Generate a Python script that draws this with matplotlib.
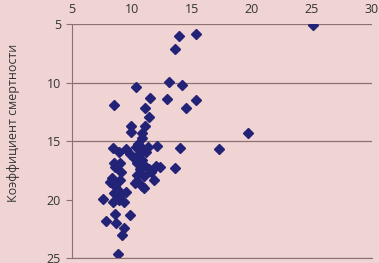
import numpy as np
import matplotlib.pyplot as plt

# точки: x, коэффициент смертности
x_vals = [25.06, 15.3, 13.9, 13.55, 13.1, 14.2, 10.3, 11.5, 12.9, 15.3,
          14.5, 11.1, 8.5, 11.4, 11.1, 9.9, 9.9, 10.8, 10.8, 19.7,
          14.0, 17.25, 13.55, 12.1, 8.4, 8.9, 9.5, 9.8, 10.3, 10.5,
          10.8, 11.3, 10.5, 10.8, 10.4, 11.0, 8.5, 9.0, 8.6, 9.1,
          8.3, 9.0, 8.2, 8.6, 8.8, 9.5, 8.5, 8.9, 7.6, 8.4,
          9.3, 8.9, 8.6, 9.8, 7.8, 8.7, 9.3, 9.2, 8.8, 10.4,
          10.4, 10.25, 10.8, 11.0, 11.0, 11.4, 11.6, 11.8, 12.0, 12.3,
          11.2, 10.2, 10.7]
y_vals = [5.11, 5.8, 6.0, 7.1, 9.9, 10.2, 10.4, 11.3, 11.4, 11.5,
          12.2, 12.2, 11.9, 12.9, 13.7, 13.7, 14.2, 14.3, 14.7, 14.3,
          15.6, 15.7, 17.3, 15.4, 15.6, 15.9, 15.7, 16.1, 15.5, 15.2,
          15.6, 15.5, 16.2, 16.6, 16.9, 17.0, 16.9, 16.9, 17.2, 17.6,
          18.1, 18.3, 18.5, 18.8, 19.2, 19.3, 19.4, 19.7, 19.9, 20.2,
          20.2, 20.0, 21.2, 21.3, 21.8, 22.0, 22.4, 23.0, 24.6, 17.9,
          18.4, 18.6, 18.8, 19.0, 18.0, 17.4, 17.6, 18.3, 17.1, 17.2,
          15.9, 16.4, 17.4]

x_ticks = [5, 10, 15, 20, 25, 30]
y_ticks = [5, 10, 15, 20, 25]

bg = '#f0d4d4'
line_col = '#8a7272'

fig = plt.figure(figsize=(3.79, 2.63), dpi=100, facecolor=bg)
ax = fig.add_axes([0.19, 0.018, 0.791, 0.89], facecolor=bg)

ax.plot(x_vals, y_vals, 'D', color='#222277', markersize=5.3, linestyle='none')

ax.set_xlim(5, 30)
ax.set_ylim(25, 5)
ax.set_xticks(x_ticks)
ax.set_yticks(y_ticks)
ax.xaxis.tick_top()

ax.grid(axis='y', color=line_col, linewidth=0.9)
ax.yaxis.get_gridlines()[3].set_visible(False)
ax.set_axisbelow(True)

for s in ['right', 'top']:
    ax.spines[s].set_visible(False)
ax.spines['left'].set_color(line_col)
ax.spines['bottom'].set_color(line_col)

ax.tick_params(axis='x', length=0, labelsize=9, colors='#333333', pad=6)
ax.tick_params(axis='y', length=4, color=line_col, labelsize=9,
               labelcolor='#333333', pad=4)
for lab in ax.get_xticklabels() + ax.get_yticklabels():
    lab.set_fontfamily('Open Sans')

ax.set_ylabel('Коэффициент смертности', fontsize=9, family='Open Sans',
              color='#333333')
ax.yaxis.set_label_coords(-0.172, 0.578)

fig.savefig('out.png', dpi=100, facecolor=bg)
